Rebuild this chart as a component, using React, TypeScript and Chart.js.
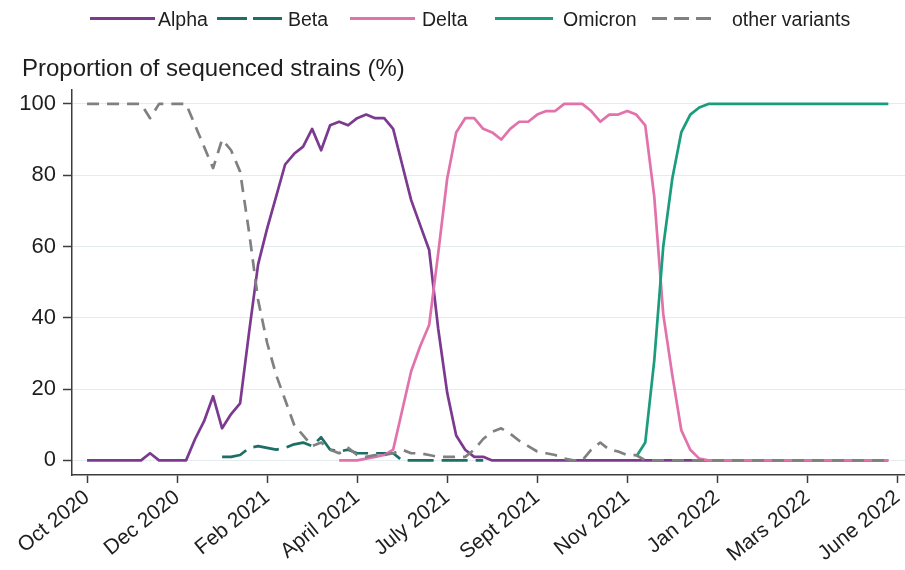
import React, { useEffect, useRef } from 'react';
import { Chart, registerables } from 'chart.js';

Chart.register(...registerables);

// weekly index (0 = first week of Oct 2020)
const weeks: number[] = [
  0, 1, 2, 3, 4, 5, 6, 7, 8, 9, 10, 11, 12, 13, 14, 15, 16, 17, 18, 19,
  20, 21, 22, 23, 24, 25, 26, 27, 28, 29, 30, 31, 32, 33, 34, 35, 36, 37, 38, 39,
  40, 41, 42, 43, 44, 45, 46, 47, 48, 49, 50, 51, 52, 53, 54, 55, 56, 57, 58, 59,
  60, 61, 62, 63, 64, 65, 66, 67, 68, 69, 70, 71, 72, 73, 74, 75, 76, 77, 78, 79,
  80, 81, 82, 83, 84, 85, 86, 87, 88, 89,
];

const tickWeeks: number[] = [0, 10, 20, 30, 40, 50, 60, 70, 80, 90];
const tickLabels: string[] = [
  'Oct 2020', 'Dec 2020', 'Feb 2021', 'April 2021', 'July 2021',
  'Sept 2021', 'Nov 2021', 'Jan 2022', 'Mars 2022', 'June 2022',
];
const yTicks: number[] = [0, 20, 40, 60, 80, 100];
const yTitle = 'Proportion of sequenced strains (%)';

const alpha: (number | null)[] = [
  0, 0, 0, 0, 0, 0, 0, 2, 0, 0, 0, 0,
  6, 11, 18, 9, 13, 16, 36, 55,
  65, 74, 83, 86, 88, 93, 87, 94, 95, 94,
  96, 97, 96, 96, 93, 83, 73, 66, 59, 37,
  19, 7, 3, 1, 1,
  0, 0, 0, 0, 0, 0, 0, 0, 0, 0, 0, 0, 0, 0, 0,
  0, 0, 0, 0, 0, 0, 0, 0, 0, 0, 0, 0, 0, 0, 0,
  0, 0, 0, 0, 0, 0, 0, 0, 0, 0, 0, 0, 0, 0, 0,
];

const beta: (number | null)[] = [
  null, null, null, null, null, null, null, null, null, null, null, null, null, null, null,
  1, 1, 1.5, 3.5, 4, 3.5, 3, 3.5, 4.5, 5, 4, 6.5, 3, 2.5, 3, 2, 2, 2, 2, 2,
  0, 0, 0, 0, 0, 0, 0, 0, 0, 0,
  null, null, null, null, null, null, null, null, null, null, null, null, null, null, null,
  null, null, null, null, null, null, null, null, null, null, null, null, null, null, null,
  null, null, null, null, null, null, null, null, null, null, null, null, null, null, null,
];

const delta: (number | null)[] = [
  null, null, null, null, null, null, null, null, null, null, null, null, null, null,
  null, null, null, null, null, null, null, null, null, null, null, null, null, null,
  0, 0, 0, 0.5, 1, 1.5, 3,
  14, 25, 32, 38, 58, 79, 92, 96, 96, 93,
  92, 90, 93, 95, 95, 97, 98, 98, 100, 100,
  100, 98, 95, 97, 97, 98, 97, 94,
  74, 41, 24, 8.5, 3, 0.5,
  0, 0, 0, 0, 0, 0, 0, 0, 0, 0, 0, 0, 0, 0, 0, 0, 0, 0, 0, 0, 0,
];

const omicron: (number | null)[] = [
  null, null, null, null, null, null, null, null, null, null,
  null, null, null, null, null, null, null, null, null, null,
  null, null, null, null, null, null, null, null, null, null,
  null, null, null, null, null, null, null, null, null, null,
  null, null, null, null, null, null, null, null, null, null,
  null, null, null, null, null, null, null, null, null, null, null,
  1, 5, 28, 60, 79, 92, 97, 99,
  100, 100, 100, 100, 100, 100, 100, 100, 100, 100, 100,
  100, 100, 100, 100, 100, 100, 100, 100, 100, 100,
];

const other: (number | null)[] = [
  100, 100, 100, 100, 100, 100, 100, 96, 100, 100, 100, 100,
  94, 88, 82, 90, 87, 81, 64, 45,
  33, 24, 17, 10, 7, 4, 5, 3, 2, 3.5,
  1.5, 1, 1.5, 1.5, 2, 3, 2, 2, 1.5, 1,
  1, 1, 1, 3, 6, 8, 9, 7.5, 5.5, 4,
  2.5, 2, 1.5, 0.5, 0, 0, 3, 5, 3, 2.5,
  1.5, 1.5,
  0, 0, 0, 0, 0, 0, 0, 0, 0, 0, 0, 0, 0, 0,
  0, 0, 0, 0, 0, 0, 0, 0, 0, 0, 0, 0, 0, 0,
];

const seriesNames = ['Alpha', 'Beta', 'Delta', 'Omicron', 'other variants'];
const seriesColors = ['#7b3a90', '#1c6f66', '#e172ab', '#1b9c7c', '#808080'];

const FONT = '"Liberation Sans", Arial, Helvetica, sans-serif';
const TEXT = '#1e1e1e';
const AXIS = '#3c3c3c';

const overlayPlugin = {
  id: 'overlay',
  afterDraw(chart: any) {
    const ctx = chart.ctx as CanvasRenderingContext2D;
    ctx.save();
    ctx.fillStyle = TEXT;
    ctx.textBaseline = 'alphabetic';
    ctx.textAlign = 'left';
    ctx.font = `24px ${FONT}`;
    ctx.fillText(yTitle, 22, 76);

    // legend layout: [lineStart, lineEnd, textX]
    const layout = [
      [90, 155, 158],
      [217, 282, 288],
      [350, 415, 422],
      [495, 553, 563],
      [652, 711, 732],
    ];
    const dashes = [[], [30, 6], [], [], [15, 7]];
    ctx.font = `19.5px ${FONT}`;
    seriesNames.forEach((name, k) => {
      const [x0, x1, tx] = layout[k];
      ctx.beginPath();
      ctx.setLineDash(dashes[k]);
      ctx.strokeStyle = seriesColors[k];
      ctx.lineWidth = 3;
      ctx.moveTo(x0, 18.5);
      ctx.lineTo(x1, 18.5);
      ctx.stroke();
      ctx.setLineDash([]);
      ctx.fillStyle = TEXT;
      ctx.fillText(name, tx, 25.5);
    });
    ctx.restore();
  },
};

export default function App() {
  const ref = useRef<HTMLCanvasElement>(null);

  useEffect(() => {
    if (!ref.current) return;
    const mk = (k: number, data: (number | null)[], order: number, dash: number[]) => ({
      label: seriesNames[k],
      data,
      borderColor: seriesColors[k],
      backgroundColor: seriesColors[k],
      borderWidth: 2.7,
      borderDash: dash,
      pointRadius: 0,
      tension: 0,
      fill: false,
      order,
      borderCapStyle: 'butt' as const,
      borderJoinStyle: 'round' as const,
    });

    const chart = new Chart(ref.current, {
      type: 'line',
      data: {
        labels: weeks,
        datasets: [
          mk(0, alpha, 5, []),
          mk(1, beta, 4, [26, 8]),
          mk(2, delta, 3, []),
          mk(3, omicron, 2, []),
          mk(4, other, 1, [12, 8]),
        ],
      },
      options: {
        responsive: false,
        animation: false,
        devicePixelRatio: 1,
        layout: { padding: { top: 90, left: 0, right: 0, bottom: 0 } },
        plugins: {
          legend: { display: false },
          title: { display: false },
          tooltip: { enabled: false },
        },
        scales: {
          x: {
            type: 'linear',
            min: -1.67,
            max: 90.85,
            offset: false,
            afterBuildTicks: (scale: any) => {
              scale.ticks = tickWeeks.map((v) => ({ value: v }));
            },
            afterFit: (scale: any) => {
              scale.height = 95;
              scale.paddingLeft = 0;
              scale.paddingRight = 0;
            },
            grid: {
              drawOnChartArea: false,
              drawTicks: true,
              tickLength: 8,
              tickColor: AXIS,
              tickWidth: 1.5,
            },
            border: { display: true, color: AXIS, width: 1.5 },
            ticks: {
              autoSkip: false,
              minRotation: 39,
              maxRotation: 39,
              padding: 2,
              color: TEXT,
              font: { family: FONT, size: 21 },
              callback: (v: any) => {
                const idx = tickWeeks.indexOf(Number(v));
                return idx >= 0 ? tickLabels[idx] : '';
              },
            },
          },
          y: {
            type: 'linear',
            min: -4.1,
            max: 103.9,
            afterBuildTicks: (scale: any) => {
              scale.ticks = yTicks.map((v) => ({ value: v }));
            },
            afterFit: (scale: any) => {
              scale.width = 72;
            },
            grid: {
              color: '#e4ecf0',
              lineWidth: 1,
              drawTicks: true,
              tickLength: 9,
              tickColor: AXIS,
              tickWidth: 1.5,
            },
            border: { display: true, color: AXIS, width: 1.5 },
            ticks: {
              padding: 7,
              color: TEXT,
              font: { family: FONT, size: 22 },
              callback: (v: any) => String(v),
            },
          },
        },
      },
      plugins: [overlayPlugin],
    } as any);

    return () => chart.destroy();
  }, []);

  return (
    <div style={{ position: 'absolute', left: 0, top: 0, width: 905, height: 570, background: '#fff' }}>
      <canvas ref={ref} width={905} height={570} style={{ display: 'block' }} />
    </div>
  );
}
